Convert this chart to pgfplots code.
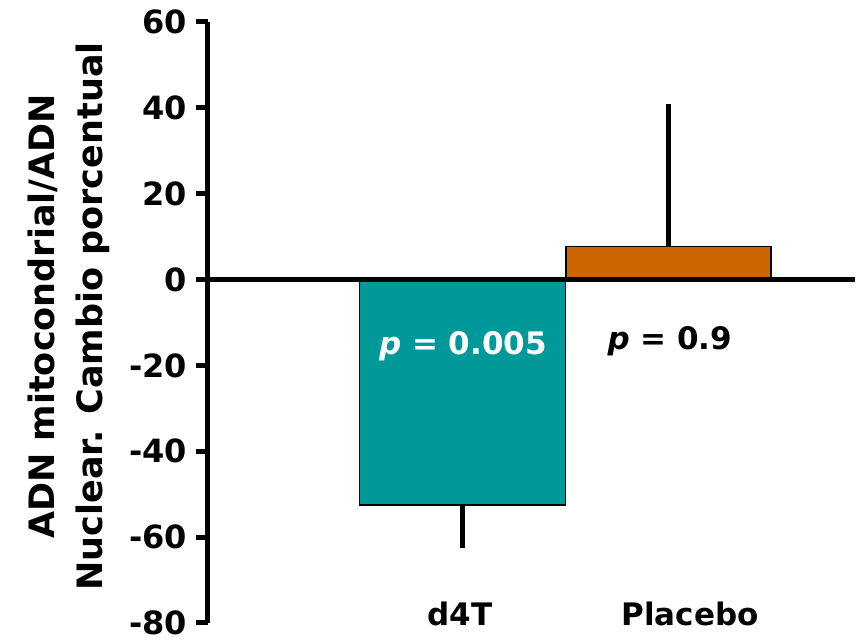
\documentclass[border=0pt]{standalone}
\usepackage{pgfplots}
\pgfplotsset{compat=1.18}
\usepackage{fontspec}
\setmainfont{DejaVu Sans}
\definecolor{tealbar}{RGB}{0,153,153}
\definecolor{orangebar}{RGB}{204,102,0}
\begin{document}
\begin{tikzpicture}
\path[use as bounding box] (0,0) rectangle (429.5pt,320.5pt);
\begin{axis}[
  at={(104pt,9pt)}, anchor=south west,
  scale only axis, width=323.5pt, height=300.5pt,
  xmin=0, xmax=647, ymin=-80, ymax=60,
  axis y line=left, axis x line=none,
  axis line style={line width=2.5pt,-},
  ytick={-80,-60,-40,-20,0,20,40,60},
  yticklabels={-80,-60,-40,-20,0,20,40,60},
  tick align=outside, major tick length=6pt,
  tick style={line width=2.5pt,black},
  yticklabel style={font=\fontsize{16}{18}\selectfont\bfseries, xshift=-1pt},
  xtick=\empty,
  ylabel={ADN mitocondrial/ADN\\Nuclear. Cambio porcentual},
  ylabel style={font=\fontsize{17.5}{24}\selectfont\bfseries, align=center, at={(axis description cs:-0.215,0.51)}, anchor=center, rotate=0},
  clip=false,
]
\addplot[ybar, bar width=206, fill=tealbar, draw=black, line width=0.6pt,
  error bars/.cd, y dir=minus, y explicit, error bar style={line width=2.5pt, black}, error mark=none]
  coordinates {(254.5,-52.5) -= (0,10)};
\addplot[ybar, bar width=205, fill=orangebar, draw=black, line width=0.6pt,
  error bars/.cd, y dir=plus, y explicit, error bar style={line width=2.5pt, black}, error mark=none]
  coordinates {(460.5,7.7) += (0,33.3)};
\draw[line width=2.5pt] (axis cs:0,0) -- (axis cs:647,0);
\node[white, font=\fontsize{15.5}{18}\selectfont\bfseries] at (axis cs:255,-15.5) {\textit{p} = 0.005};
\node[black, font=\fontsize{15.5}{18}\selectfont\bfseries] at (axis cs:462,-14.3) {\textit{p} = 0.9};
\node[font=\fontsize{15.5}{18}\selectfont\bfseries] at (axis cs:252,-77.8) {d4T};
\node[font=\fontsize{15.5}{18}\selectfont\bfseries] at (axis cs:482,-77.8) {Placebo};
\end{axis}
\end{tikzpicture}
\end{document}
